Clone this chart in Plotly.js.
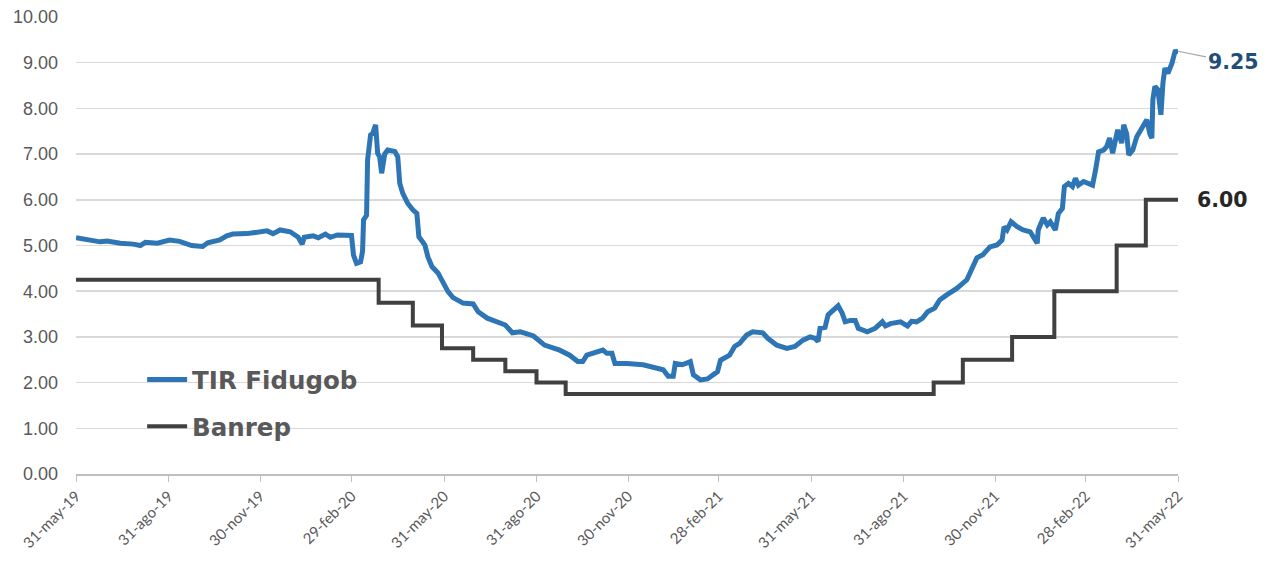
<!DOCTYPE html>
<html>
<head>
<meta charset="utf-8">
<script src="https://cdn.plot.ly/plotly-3.0.1.min.js"></script>
<style>html,body{margin:0;padding:0;background:#fff;}#chart{width:1267px;height:565px;}</style>
</head>
<body>
<div id="chart"></div>
<script>
// TIR Fidugob
const tirDates = [
"2019-05-31","2019-06-14","2019-06-24","2019-07-01","2019-07-14","2019-07-27","2019-08-03","2019-08-08","2019-08-20","2019-09-01",
"2019-09-11","2019-09-23","2019-10-04","2019-10-09","2019-10-21","2019-10-28","2019-11-03","2019-11-17","2019-11-27","2019-12-07",
"2019-12-13","2019-12-20","2019-12-30","2020-01-07","2020-01-11","2020-01-13","2020-01-22","2020-01-27","2020-02-03","2020-02-08",
"2020-02-15","2020-02-29","2020-03-02","2020-03-05","2020-03-09","2020-03-11","2020-03-12","2020-03-15","2020-03-16","2020-03-19",
"2020-03-21","2020-03-24","2020-03-26","2020-03-28","2020-03-30","2020-04-02","2020-04-05","2020-04-12","2020-04-15","2020-04-17",
"2020-04-20","2020-04-25","2020-04-30","2020-05-04","2020-05-06","2020-05-12","2020-05-15","2020-05-19","2020-05-25","2020-05-30",
"2020-06-04","2020-06-09","2020-06-19","2020-06-29","2020-07-04","2020-07-13","2020-07-23","2020-07-31","2020-08-07","2020-08-15",
"2020-08-28","2020-09-08","2020-09-23","2020-10-03","2020-10-11","2020-10-16","2020-10-20","2020-10-25","2020-11-05","2020-11-09",
"2020-11-14","2020-11-17","2020-11-29","2020-12-15","2021-01-04","2021-01-09","2021-01-14","2021-01-16","2021-01-23","2021-01-31",
"2021-02-03","2021-02-10","2021-02-17","2021-02-27","2021-03-02","2021-03-11","2021-03-16","2021-03-21","2021-03-28","2021-04-03",
"2021-04-13","2021-04-18","2021-04-27","2021-05-07","2021-05-15","2021-05-23","2021-05-30","2021-06-04","2021-06-07","2021-06-09",
"2021-06-14","2021-06-17","2021-06-22","2021-06-27","2021-07-01","2021-07-04","2021-07-09","2021-07-14","2021-07-17","2021-07-26",
"2021-08-03","2021-08-10","2021-08-13","2021-08-18","2021-08-28","2021-09-04","2021-09-08","2021-09-13","2021-09-19","2021-09-24",
"2021-10-01","2021-10-06","2021-10-13","2021-10-23","2021-11-02","2021-11-07","2021-11-12","2021-11-18","2021-11-25","2021-12-02",
"2021-12-07","2021-12-09","2021-12-12","2021-12-16","2021-12-22","2021-12-28","2022-01-04","2022-01-07","2022-01-11","2022-01-12",
"2022-01-17","2022-01-21","2022-01-24","2022-01-29","2022-02-01","2022-02-05","2022-02-07","2022-02-11","2022-02-15","2022-02-18",
"2022-02-21","2022-02-26","2022-03-03","2022-03-07","2022-03-10","2022-03-13","2022-03-18","2022-03-21","2022-03-24","2022-03-27",
"2022-04-01","2022-04-05","2022-04-07","2022-04-10","2022-04-12","2022-04-16","2022-04-20","2022-04-25","2022-04-30","2022-05-03",
"2022-05-05","2022-05-06","2022-05-08","2022-05-11","2022-05-14","2022-05-16","2022-05-18","2022-05-21","2022-05-25","2022-05-28",
"2022-05-31"
];
const tirValues = [
5.17,5.12,5.08,5.10,5.05,5.03,5.00,5.07,5.05,5.12,
5.09,5.00,4.98,5.06,5.12,5.21,5.25,5.26,5.30,5.32,
5.26,5.34,5.30,5.18,5.03,5.18,5.21,5.17,5.25,5.18,
5.23,5.22,4.79,4.61,4.64,4.87,5.56,5.66,6.87,7.42,
7.45,7.64,7.02,6.94,6.58,7.00,7.09,7.06,6.94,6.36,
6.14,5.92,5.78,5.70,5.19,5.01,4.75,4.54,4.40,4.21,
3.99,3.86,3.74,3.72,3.55,3.41,3.33,3.26,3.09,3.11,
3.02,2.82,2.71,2.60,2.46,2.46,2.60,2.64,2.71,2.64,
2.64,2.42,2.42,2.39,2.28,2.14,2.14,2.42,2.39,2.46,
2.17,2.06,2.08,2.24,2.49,2.60,2.79,2.86,3.04,3.11,
3.09,2.97,2.82,2.75,2.79,2.93,3.00,2.97,2.90,3.19,
3.21,3.48,3.59,3.68,3.52,3.33,3.36,3.36,3.19,3.11,
3.19,3.33,3.24,3.29,3.33,3.24,3.34,3.33,3.41,3.55,
3.63,3.81,3.92,4.06,4.25,4.50,4.73,4.80,4.97,5.01,
5.12,5.41,5.34,5.52,5.41,5.34,5.30,5.19,5.05,5.34,
5.60,5.45,5.52,5.34,5.70,5.81,6.29,6.36,6.29,6.47,
6.32,6.40,6.36,6.32,6.65,7.05,7.09,7.16,7.35,7.02,
7.53,7.24,7.64,7.44,6.98,7.09,7.38,7.56,7.75,7.44,
7.35,8.19,8.48,8.41,7.86,8.55,8.88,8.77,8.99,9.24,
9.25
];
// Banrep policy rate (step changes)
const banrepDates = ["2019-05-31","2020-03-27","2020-04-30","2020-05-29","2020-06-29","2020-07-31","2020-08-31","2020-09-29","2021-09-30","2021-10-29","2021-12-17","2022-01-28","2022-03-31","2022-04-29","2022-05-31"];
const banrepValues = [4.25,3.75,3.25,2.75,2.50,2.25,2.00,1.75,2.00,2.50,3.00,4.00,5.00,6.00,6.00];

const tickDates = ["2019-05-31","2019-08-31","2019-11-30","2020-02-29","2020-05-31","2020-08-31","2020-11-30","2021-02-28","2021-05-31","2021-08-31","2021-11-30","2022-02-28","2022-05-31"];
const tickLabels = ["31-may-19","31-ago-19","30-nov-19","29-feb-20","31-may-20","31-ago-20","30-nov-20","28-feb-21","31-may-21","31-ago-21","30-nov-21","28-feb-22","31-may-22"];
const seriesNames = ["TIR Fidugob","Banrep"];

const traces = [
  {x: tirDates, y: tirValues, name: seriesNames[0], type: "scatter", mode: "lines", legendgroup: "a",
   line: {color: "#2E75B6", width: 5}},
  {x: banrepDates, y: banrepValues, name: seriesNames[1], type: "scatter", mode: "lines", legendgroup: "b",
   line: {color: "#404040", width: 4, shape: "hv"}}
];

const layout = {
  width: 1267, height: 565,
  margin: {l: 76, r: 89, t: 17, b: 91},
  paper_bgcolor: "#ffffff", plot_bgcolor: "#ffffff",
  showlegend: true,
  legend: {x: 0.06, y: 0.256, xanchor: "left", yanchor: "top", bgcolor: "rgba(0,0,0,0)",
    font: {family: "DejaVu Sans", size: 24.5, color: "#595959", weight: "bold"}, tracegroupgap: 12, itemwidth: 40},
  xaxis: {type: "date", range: ["2019-05-31","2022-05-31"], tickmode: "array", tickvals: tickDates, ticktext: tickLabels,
    tickangle: -45, tickfont: {family: "Lato", size: 15, color: "#595959"},
    showgrid: false, showline: true, linecolor: "#BFBFBF", linewidth: 1.5, ticks: "outside", ticklen: 6, tickcolor: "#BFBFBF",
    zeroline: false, fixedrange: true},
  yaxis: {range: [0, 10], dtick: 1, tick0: 0, tickformat: ".2f", tickfont: {family: "Liberation Sans", size: 18, color: "#595959"},
    showgrid: true, gridcolor: "#D9D9D9", gridwidth: 1.5, showline: false, zeroline: false, ticks: "", ticklabelstandoff: 17,
    fixedrange: true},
  annotations: [
    {x: tirDates[tirDates.length - 1], y: tirValues[tirValues.length - 1], xref: "x", yref: "y", text: "9.25",
     showarrow: true, arrowhead: 0, arrowwidth: 1.2, arrowcolor: "#A6A6A6", ax: 55, ay: 11, axref: "pixel", ayref: "pixel",
     font: {family: "DejaVu Sans", size: 20.5, color: "#1F4E79", weight: "bold"}},
    {x: banrepDates[banrepDates.length - 1], y: banrepValues[banrepValues.length - 1], xref: "x", yref: "y", text: "6.00",
     showarrow: false, xanchor: "left", xshift: 17,
     font: {family: "DejaVu Sans", size: 20.5, color: "#262626", weight: "bold"}}
  ]
};

Plotly.newPlot("chart", traces, layout, {displayModeBar: false, staticPlot: true});
</script>
</body>
</html>
